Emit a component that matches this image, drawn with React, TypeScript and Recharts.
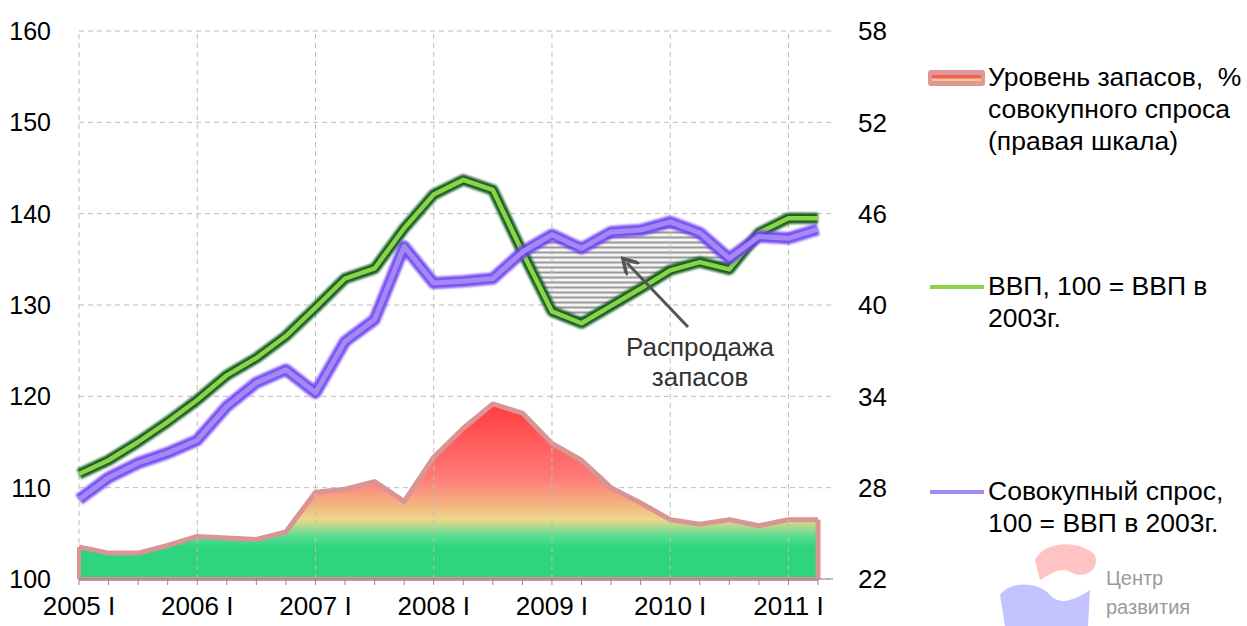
import React from 'react';
import { ComposedChart, Line, Area, XAxis, YAxis, CartesianGrid, ReferenceLine } from 'recharts';

const quarters = [
  '2005 I', '2005 II', '2005 III', '2005 IV',
  '2006 I', '2006 II', '2006 III', '2006 IV',
  '2007 I', '2007 II', '2007 III', '2007 IV',
  '2008 I', '2008 II', '2008 III', '2008 IV',
  '2009 I', '2009 II', '2009 III', '2009 IV',
  '2010 I', '2010 II', '2010 III', '2010 IV',
  '2011 I', '2011 II',
];

// ВВП, 100 = ВВП в 2003г.
const gdp = [
  111.5, 113.0, 115.0, 117.2, 119.6, 122.3, 124.2, 126.6, 129.7, 132.9, 134.0, 138.4, 142.1,
  143.7, 142.6, 135.8, 129.3, 128.0, 129.9, 131.8, 133.8, 134.7, 133.9, 137.9, 139.5, 139.5,
];

// Совокупный спрос, 100 = ВВП в 2003г.
const demand = [
  108.7, 111.1, 112.7, 113.8, 115.2, 118.9, 121.5, 122.9, 120.4, 126.0, 128.4, 136.4, 132.4,
  132.6, 132.9, 135.8, 137.7, 136.2, 138.0, 138.2, 139.1, 137.9, 135.1, 137.5, 137.3, 138.3,
];

// Уровень запасов, % совокупного спроса (правая шкала)
const inventory = [
  24.1, 23.7, 23.7, 24.2, 24.8, 24.7, 24.6, 25.1, 27.7, 27.9, 28.4, 27.1, 30.0,
  31.9, 33.5, 32.9, 30.9, 29.8, 28.0, 27.0, 25.9, 25.6, 25.9, 25.5, 25.9, 25.9,
];

const leftTicks = [100, 110, 120, 130, 140, 150, 160];
const rightTicks = [22, 28, 34, 40, 46, 52, 58];

// кварталы распродажи запасов (спрос выше ВВП)
const saleFrom = 15;
const saleTo = 22;

const data = quarters.map((q, i) => ({
  q,
  gdp: gdp[i],
  demand: demand[i],
  inventory: inventory[i],
  sale: i >= saleFrom && i <= saleTo ? [gdp[i], demand[i]] : null,
}));

const FONT = '"Liberation Sans", Arial, sans-serif';
const last = quarters[quarters.length - 1];
const invBase = rightTicks[0];
const pink = '#d99494';

export default function App() {
  return (
    <div style={{ position: 'absolute', left: 0, top: 0, width: 1247, height: 626, fontFamily: FONT, background: '#fff' }}>
      <ComposedChart
        width={1247}
        height={626}
        data={data}
        margin={{ top: 31, right: 344, left: 0, bottom: 0 }}
      >
        <defs>
          <linearGradient id="invGrad" x1="0" y1="0" x2="0" y2="1">
            <stop offset="0" stopColor="#ff3c3c" />
            <stop offset="0.42" stopColor="#ff7a7a" />
            <stop offset="0.56" stopColor="#f5ae80" />
            <stop offset="0.66" stopColor="#eed68a" />
            <stop offset="0.75" stopColor="#5ede94" />
            <stop offset="0.82" stopColor="#2ed47e" />
            <stop offset="1" stopColor="#2ed47e" />
          </linearGradient>
          <pattern id="hatch" width="8" height="5" patternUnits="userSpaceOnUse">
            <rect width="8" height="5" fill="#f4f4f4" />
            <line x1="0" y1="2.5" x2="8" y2="2.5" stroke="#9a9a9a" strokeWidth="2" />
          </pattern>
          <filter id="glow" x="-5%" y="-5%" width="110%" height="110%">
            <feGaussianBlur stdDeviation="1.1" />
          </filter>
        </defs>
        <CartesianGrid vertical={false} stroke="#bdbdbd" strokeDasharray="5 4" yAxisId="left" />
        {quarters.filter((q) => q.endsWith(' I')).map((q) => (
          <ReferenceLine key={q} x={q} yAxisId="left" stroke="#bdbdbd" strokeDasharray="5 4" />
        ))}
        <XAxis
          dataKey="q"
          interval={0}
          padding={{ left: 0, right: 15 }}
          height={47}
          stroke="#8a8a8a"
          tickSize={6}
          tickMargin={12}
          tickFormatter={(v: string) => (v.endsWith(' I') ? v : '')}
          tick={{ fill: '#000', fontSize: 26, fontFamily: FONT }}
        />
        <YAxis
          yAxisId="left"
          domain={[100, 160]}
          ticks={leftTicks}
          width={79}
          axisLine={false}
          tickLine={false}
          tickSize={0}
          tickMargin={28}
          tick={{ fill: '#000', fontSize: 25, fontFamily: FONT }}
        />
        <YAxis
          yAxisId="right"
          orientation="right"
          domain={[22, 58]}
          ticks={rightTicks}
          width={70}
          axisLine={false}
          tickLine={false}
          tickSize={0}
          tickMargin={25}
          tick={{ fill: '#000', fontSize: 26, fontFamily: FONT, textAnchor: 'start' }}
        />

        <Area
          yAxisId="right"
          dataKey="inventory"
          type="linear"
          fill="url(#invGrad)"
          fillOpacity={1}
          stroke={pink}
          strokeWidth={5}
          strokeLinejoin="round"
          isAnimationActive={false}
        />
        <ReferenceLine yAxisId="right" stroke={pink} strokeWidth={4}
          segment={[{ x: quarters[0], y: invBase }, { x: last, y: invBase }]} />
        <ReferenceLine yAxisId="right" stroke={pink} strokeWidth={5}
          segment={[{ x: last, y: invBase }, { x: last, y: inventory[inventory.length - 1] }]} />
        <ReferenceLine yAxisId="right" stroke={pink} strokeWidth={4}
          segment={[{ x: quarters[0], y: invBase }, { x: quarters[0], y: inventory[0] }]} />

        <Area
          yAxisId="left"
          dataKey="sale"
          type="linear"
          fill="url(#hatch)"
          fillOpacity={1}
          stroke="#8a8a8a"
          strokeWidth={1.5}
          isAnimationActive={false}
        />

        <Line yAxisId="left" dataKey="gdp" type="linear" dot={false} stroke="#145f20" strokeWidth={11}
          filter="url(#glow)" strokeLinejoin="round" isAnimationActive={false} />
        <Line yAxisId="left" dataKey="gdp" type="linear" dot={false} stroke="#8ed24a" strokeWidth={4.5}
          strokeLinejoin="round" isAnimationActive={false} />
        <Line yAxisId="left" dataKey="demand" type="linear" dot={false} stroke="#6a3ef2" strokeWidth={12}
          filter="url(#glow)" strokeOpacity={0.9} strokeLinejoin="round" isAnimationActive={false} />
        <Line yAxisId="left" dataKey="demand" type="linear" dot={false} stroke="#a488f6" strokeWidth={5}
          strokeLinejoin="round" isAnimationActive={false} />
      </ComposedChart>

      {/* стрелка и подпись */}
      <svg style={{ position: 'absolute', left: 0, top: 0, pointerEvents: 'none' }} width={1247} height={626}>
        <defs>
          <marker id="arrowHead" markerWidth="6" markerHeight="6" refX="3" refY="3" orient="auto">
            <path d="M0,0 L5,3 L0,6" fill="none" stroke="#555" strokeWidth="1.2" />
          </marker>
        </defs>
        <line x1={688} y1={327} x2={627} y2={263} stroke="#555" strokeWidth={3} markerEnd="url(#arrowHead)" />
        {/* логотип */}
        <path d="M1035,560 C1045,540 1080,540 1095,555 C1100,570 1085,580 1070,572 C1060,566 1050,575 1040,580 Z" fill="#ffb4b4" opacity={0.8} />
        <path d="M1000,595 C1010,580 1040,582 1050,595 C1060,606 1075,600 1090,590 L1088,626 L1005,626 Z" fill="#b4b4ff" opacity={0.8} />
      </svg>
      <div style={{ position: 'absolute', left: 600, top: 332, width: 200, textAlign: 'center', fontSize: 26, lineHeight: '30px', color: '#333' }}>
        Распродажа<br />запасов
      </div>
      <div style={{ position: 'absolute', left: 1106, top: 564, fontSize: 20, lineHeight: '29px', color: '#9a9a9a' }}>
        Центр<br />развития
      </div>

      {/* легенда */}
      <div style={{ position: 'absolute', left: 928, top: 61, fontSize: 26.5, lineHeight: '32px', color: '#000' }}>
        <div style={{ position: 'absolute', left: 0, top: 9, width: 57, height: 16, borderRadius: 3, background: '#de9898' }}>
          <div style={{ position: 'absolute', left: 4, right: 4, top: 5, height: 3, background: '#ff5a5a' }} />
          <div style={{ position: 'absolute', left: 4, right: 4, top: 9, height: 2, background: '#f0d070' }} />
        </div>
        <div style={{ position: 'absolute', left: 60, top: 0, whiteSpace: 'nowrap' }}>
          Уровень запасов,&nbsp; %<br />совокупного спроса<br />(правая шкала)
        </div>
      </div>
      <div style={{ position: 'absolute', left: 928, top: 270, fontSize: 26.5, lineHeight: '32px', color: '#000' }}>
        <div style={{ position: 'absolute', left: 2, top: 15, width: 54, height: 4, background: '#8ed24a' }} />
        <div style={{ position: 'absolute', left: 60, top: 0, whiteSpace: 'nowrap' }}>
          ВВП, 100 = ВВП в<br />2003г.
        </div>
      </div>
      <div style={{ position: 'absolute', left: 928, top: 475, fontSize: 26.5, lineHeight: '32px', color: '#000' }}>
        <div style={{ position: 'absolute', left: 2, top: 15, width: 54, height: 4, background: '#a488f6' }} />
        <div style={{ position: 'absolute', left: 60, top: 0, whiteSpace: 'nowrap' }}>
          Совокупный спрос,<br />100 = ВВП в 2003г.
        </div>
      </div>
    </div>
  );
}
